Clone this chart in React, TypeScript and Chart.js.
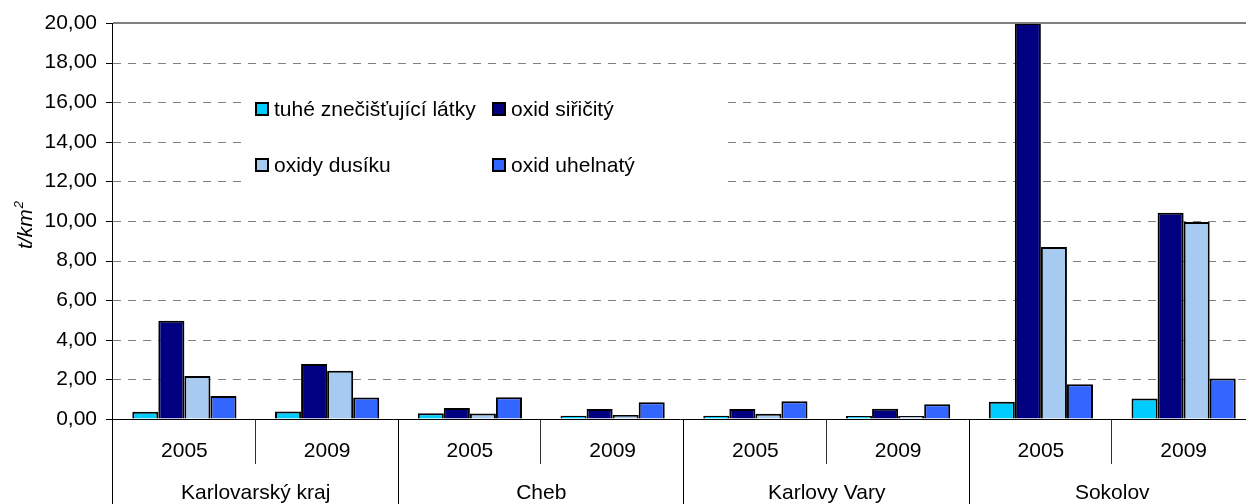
import React, { useEffect, useRef } from "react";
import { Chart, registerables } from "chart.js";

Chart.register(...registerables);

const FONT = '"Liberation Sans", Arial, sans-serif';

const groups = ["Karlovarský kraj", "Cheb", "Karlovy Vary", "Sokolov"];
const categories = ["2005", "2009", "2005", "2009", "2005", "2009", "2005", "2009"];

const seriesNames = ["tuhé znečišťující látky", "oxid siřičitý", "oxidy dusíku", "oxid uhelnatý"];
const seriesColors = ["#00CCFF", "#000080", "#A6CAF0", "#3366FF"];

const tuhe = [0.37, 0.38, 0.29, 0.17, 0.17, 0.15, 0.87, 1.03];
const oxidSiricity = [4.96, 2.78, 0.56, 0.51, 0.5, 0.52, 20.0, 10.42];
const oxidyDusiku = [2.17, 2.44, 0.28, 0.2, 0.27, 0.15, 8.69, 9.95];
const oxidUhelnaty = [1.16, 1.08, 1.1, 0.84, 0.9, 0.74, 1.75, 2.04];

const yMin = 0;
const yMax = 20;
const yStep = 2;
const yTitle = "t/km";
const yTitleSup = "2";

const fmt = (v: number) => v.toFixed(2).replace(".", ",");

const overlayPlugin = {
  id: "overlay",
  beforeDatasetsDraw(chart: any) {
    const { ctx, chartArea, scales } = chart;
    const y = scales.y;
    ctx.save();
    // dashed gridlines
    ctx.strokeStyle = "#808080";
    ctx.lineWidth = 1;
    ctx.setLineDash([8, 7]);
    for (let v = yMin + yStep; v < yMax; v += yStep) {
      const py = Math.round(y.getPixelForValue(v)) + 0.5;
      ctx.beginPath();
      ctx.moveTo(chartArea.left, py);
      ctx.lineTo(chartArea.right, py);
      ctx.stroke();
    }
    ctx.setLineDash([]);
    // legend
    ctx.fillStyle = "#ffffff";
    ctx.fillRect(245, 70, 481, 140);
    const legX = [255, 492];
    const legY = [109, 165];
    ctx.font = `21px ${FONT}`;
    ctx.textBaseline = "alphabetic";
    ctx.textAlign = "left";
    for (let i = 0; i < seriesNames.length; i++) {
      const col = i % 2;
      const row = Math.floor(i / 2);
      const bx = legX[col];
      const by = legY[row] - 7;
      ctx.fillStyle = seriesColors[i];
      ctx.fillRect(bx, by, 14, 14);
      ctx.strokeStyle = "#000";
      ctx.lineWidth = 2;
      ctx.strokeRect(bx + 1, by + 1, 12, 12);
      ctx.fillStyle = "#000";
      ctx.fillText(seriesNames[i], bx + 19, legY[row] + 7);
    }
    ctx.restore();
  },
  afterDatasetsDraw(chart: any) {
    const { ctx, chartArea, scales } = chart;
    const x = scales.x;
    const y = scales.y;
    const H = chart.height;
    ctx.save();
    // top border
    ctx.fillStyle = "#808080";
    ctx.fillRect(chartArea.left, chartArea.top - 1, chartArea.right - chartArea.left, 2);
    ctx.strokeStyle = "#000";
    ctx.lineWidth = 1;
    // y axis line
    const ax = chartArea.left - 0.5;
    ctx.beginPath();
    ctx.moveTo(ax, chartArea.top);
    ctx.lineTo(ax, H);
    ctx.stroke();
    // y tick marks
    for (let v = yMin; v <= yMax; v += yStep) {
      const py = Math.round(y.getPixelForValue(v)) + 0.5;
      ctx.beginPath();
      ctx.moveTo(chartArea.left - 7, py);
      ctx.lineTo(chartArea.left, py);
      ctx.stroke();
    }
    // zero line
    const zy = Math.round(y.getPixelForValue(0)) + 0.5;
    ctx.beginPath();
    ctx.moveTo(chartArea.left - 7, zy);
    ctx.lineTo(chartArea.right, zy);
    ctx.stroke();
    // category separators
    const n = categories.length;
    const c0 = x.getPixelForValue(0);
    const c1 = x.getPixelForValue(1);
    const cw = c1 - c0;
    for (let i = 1; i <= n; i++) {
      const bx = Math.round(c0 - cw / 2 + i * cw) - 0.5;
      const yEnd = i % 2 === 0 ? H : 464;
      ctx.strokeStyle = i % 2 === 0 ? "#000" : "#303030";
      ctx.beginPath();
      ctx.moveTo(bx, zy);
      ctx.lineTo(bx, yEnd);
      ctx.stroke();
    }
    // year labels
    ctx.fillStyle = "#000";
    ctx.font = `21px ${FONT}`;
    ctx.textAlign = "center";
    ctx.textBaseline = "alphabetic";
    for (let i = 0; i < n; i++) {
      ctx.fillText(categories[i], x.getPixelForValue(i), 457);
    }
    // group labels
    for (let g = 0; g < groups.length; g++) {
      const gx = (x.getPixelForValue(2 * g) + x.getPixelForValue(2 * g + 1)) / 2;
      ctx.fillText(groups[g], gx, 499);
    }
    // y title
    ctx.translate(32, 249);
    ctx.rotate(-Math.PI / 2);
    ctx.textAlign = "left";
    ctx.font = `italic 21px ${FONT}`;
    ctx.fillText(yTitle, 0, 0);
    const w = ctx.measureText(yTitle).width;
    ctx.font = `italic 13px ${FONT}`;
    ctx.fillText(yTitleSup, w + 1, -9);
    ctx.restore();
  },
};

export default function App() {
  const ref = useRef<HTMLCanvasElement | null>(null);
  useEffect(() => {
    if (!ref.current) return;
    Chart.defaults.font.family = FONT;
    const chart = new Chart(ref.current, {
      type: "bar",
      data: {
        labels: categories,
        datasets: [tuhe, oxidSiricity, oxidyDusiku, oxidUhelnaty].map((d, i) => ({
          label: seriesNames[i],
          data: d,
          backgroundColor: seriesColors[i],
          borderColor: "#000",
          borderWidth: 2,
          categoryPercentage: 0.73,
          barPercentage: 1,
        })),
      },
      options: {
        responsive: false,
        animation: false,
        devicePixelRatio: 1,
        layout: { padding: { top: 23, right: 0, bottom: 0, left: 0 } },
        plugins: { legend: { display: false }, tooltip: { enabled: false } },
        scales: {
          x: {
            type: "category",
            offset: true,
            grid: { display: false },
            border: { display: false },
            ticks: { display: false },
            afterFit: (s: any) => {
              s.height = 85;
            },
          },
          y: {
            min: yMin,
            max: yMax,
            ticks: {
              stepSize: yStep,
              callback: (v: any) => fmt(Number(v)),
              font: { family: FONT, size: 21 },
              color: "#000",
              padding: 10,
            },
            grid: { display: true, drawOnChartArea: false, drawTicks: true, tickLength: 6, color: "rgba(0,0,0,0)" },
            border: { display: false },
            afterFit: (s: any) => {
              s.width = 113;
            },
          },
        },
      },
      plugins: [overlayPlugin],
    } as any);
    return () => chart.destroy();
  }, []);
  return (
    <div
      style={{
        position: "fixed",
        left: 0,
        top: 0,
        width: 1246,
        height: 504,
        overflow: "hidden",
        background: "#fff",
      }}
    >
      <canvas ref={ref} width={1255} height={504} style={{ display: "block", width: 1255, height: 504 }} />
    </div>
  );
}
